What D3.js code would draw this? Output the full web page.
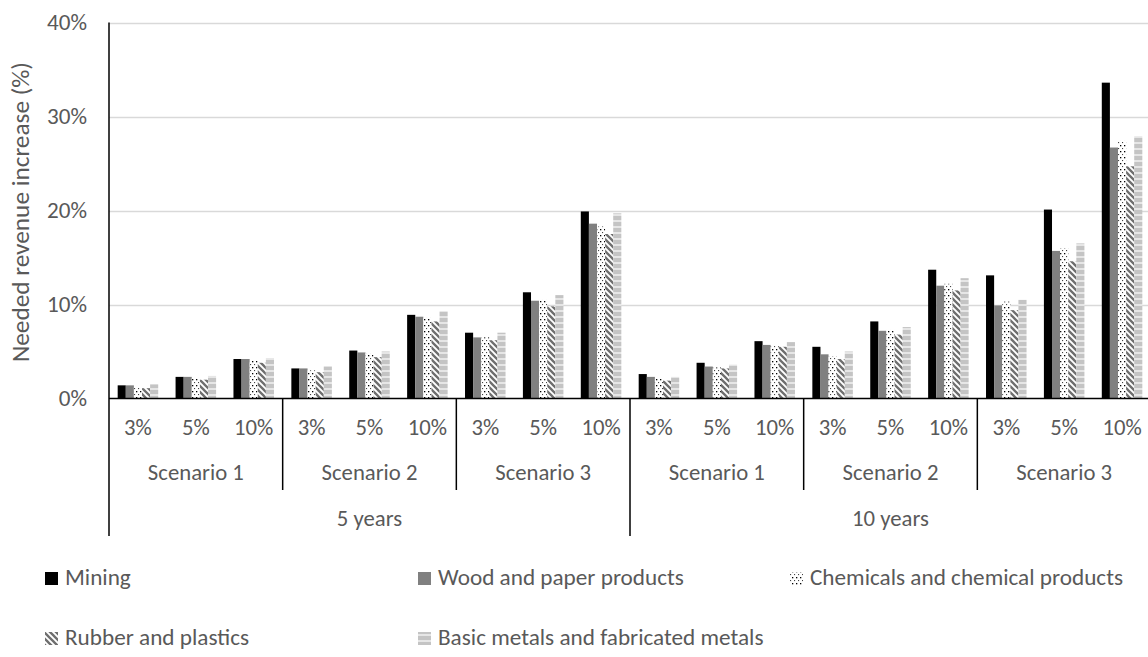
<!DOCTYPE html>
<html>
<head>
<meta charset="utf-8">
<script src="https://cdn.jsdelivr.net/npm/d3@7"></script>
<style>
  html, body { margin: 0; padding: 0; background: #fff; }
  svg { display: block; }
  text { font-family: Carlito, Lato, "Liberation Sans", sans-serif; font-weight: 300; fill: #595959; }
</style>
</head>
<body>
<svg id="chart" width="1148" height="657"></svg>
<script>
// ---- data ----
const horizons = ["5 years", "10 years"];
const scenarios = ["Scenario 1", "Scenario 2", "Scenario 3"];
const rates = ["3%", "5%", "10%"];
const sectors = ["Mining", "Wood and paper products", "Chemicals and chemical products", "Rubber and plastics", "Basic metals and fabricated metals"];
const yTicks = [0, 0.1, 0.2, 0.3, 0.4];
const yTitle = "Needed revenue increase (%)";
// values (%), order: 5y S1 3/5/10, S2 3/5/10, S3 3/5/10, 10y S1..S3
const mining    = [1.4, 2.3, 4.2, 3.2, 5.1, 8.9, 7.0, 11.3, 19.9, 2.6, 3.8, 6.1, 5.5, 8.2, 13.7, 13.1, 20.1, 33.6];
const wood      = [1.4, 2.3, 4.2, 3.2, 4.9, 8.7, 6.5, 10.4, 18.6, 2.3, 3.4, 5.7, 4.7, 7.2, 12.0, 9.9, 15.7, 26.7];
const chemicals = [1.2, 2.2, 4.0, 3.0, 4.8, 8.6, 6.5, 10.5, 18.3, 2.1, 3.3, 5.6, 4.5, 7.3, 12.2, 10.3, 16.0, 27.4];
const rubber    = [1.1, 2.0, 3.8, 2.8, 4.4, 8.2, 6.2, 9.8, 17.5, 1.9, 3.2, 5.5, 4.2, 6.8, 11.5, 9.4, 14.6, 24.7];
const basic     = [1.5, 2.4, 4.3, 3.4, 5.0, 9.3, 7.0, 11.0, 19.7, 2.3, 3.6, 6.0, 5.0, 7.6, 12.8, 10.5, 16.5, 27.9];
const seriesValues = [mining, wood, chemicals, rubber, basic];

// ---- layout ----
const svg = d3.select("#chart");
const X0 = 109, X1 = 1151, Y0 = 398.5, YT = 22.5;
const FAMILY = "Carlito, Lato, sans-serif";

// size a font so that a sample string has a given width
function fitSize(sample, width) {
  const t = svg.append("text").style("font-family", FAMILY).style("font-size", "20px").text(sample);
  const w = t.node().getComputedTextLength();
  t.remove();
  return (20 * width / w).toFixed(2) + "px";
}
const FS = fitSize("Scenario 1", 96);
const FSY = fitSize("40%", 40);
const FST = fitSize(yTitle, 300);
const FSL = fitSize("Wood and paper products", 246);

const catKeys = [];
horizons.forEach(h => scenarios.forEach(s => rates.forEach(r => catKeys.push(h + "|" + s + "|" + r))));

const x = d3.scaleBand().domain(catKeys).range([X0, X1]).paddingInner(0.3).paddingOuter(0.15);
const xFull = d3.scaleBand().domain(catKeys).range([X0, X1]).padding(0);
const xs = d3.scaleBand().domain(d3.range(sectors.length)).range([0, x.bandwidth()]);
const y = d3.scaleLinear().domain([0, 0.4]).range([Y0, YT]);

// ---- patterns ----
const defs = svg.append("defs");
const pChem = defs.append("pattern").attr("id", "pChem").attr("patternUnits", "userSpaceOnUse").attr("width", 4).attr("height", 6);
pChem.append("rect").attr("width", 4).attr("height", 6).attr("fill", "#fff");
pChem.append("rect").attr("x", 0).attr("y", 1).attr("width", 1.3).attr("height", 1.3).attr("fill", "#000");
pChem.append("rect").attr("x", 2).attr("y", 4).attr("width", 1.1).attr("height", 1.1).attr("fill", "#444");
const pRub = defs.append("pattern").attr("id", "pRub").attr("patternUnits", "userSpaceOnUse").attr("width", 6).attr("height", 6);
pRub.append("rect").attr("width", 6).attr("height", 6).attr("fill", "#fff");
pRub.append("path").attr("d", "M-1,5 L1,7 M0,0 L6,6 M5,-1 L7,1").attr("stroke", "#6e6e6e").attr("stroke-width", 2.3);
const pBas = defs.append("pattern").attr("id", "pBas").attr("patternUnits", "userSpaceOnUse").attr("width", 6).attr("height", 6);
pBas.append("rect").attr("width", 6).attr("height", 6).attr("fill", "#e6e6e6");
pBas.append("rect").attr("x", 0).attr("y", 0).attr("width", 6).attr("height", 4).attr("fill", "#c4c4c4");
const fills = ["#000000", "#808080", "url(#pChem)", "url(#pRub)", "url(#pBas)"];

// ---- gridlines ----
svg.append("g").selectAll("line").data(yTicks.filter(d => d > 0)).join("line")
  .attr("x1", X0).attr("x2", 1148).attr("y1", d => Math.round(y(d)) + 0.5).attr("y2", d => Math.round(y(d)) + 0.5)
  .attr("stroke", "#d9d9d9").attr("stroke-width", 1.3);

// y tick labels
const yAxis = d3.axisLeft(y).tickValues(yTicks).tickFormat(d3.format(".0%")).tickSize(0).tickPadding(22);
const ya = svg.append("g").attr("transform", `translate(${X0},0)`).call(yAxis);
ya.select(".domain").remove();
ya.selectAll("text").style("font-size", FSY).attr("fill", "#595959").style("font-family", FAMILY).style("font-weight", 300);

// y title
svg.append("text").attr("transform", `translate(23,212) rotate(-90)`)
  .attr("text-anchor", "middle").attr("dominant-baseline", "middle")
  .style("font-size", FST).text(yTitle);

// ---- bars ----
const barData = [];
seriesValues.forEach((vals, si) => vals.forEach((v, ci) => barData.push({ si, key: catKeys[ci], v: v / 100 })));
svg.append("g").selectAll("rect").data(barData).join("rect")
  .attr("x", d => x(d.key) + xs(d.si))
  .attr("width", xs.bandwidth())
  .attr("y", d => y(d.v))
  .attr("height", d => Y0 - y(d.v))
  .attr("fill", d => fills[d.si]);

// ---- axes lines ----
const YB_SC = 490, YB_H = 536;
svg.append("line").attr("x1", X0).attr("x2", X1).attr("y1", Y0).attr("y2", Y0).attr("stroke", "#000").attr("stroke-width", 1.5);
svg.append("line").attr("x1", X0).attr("x2", X0).attr("y1", YT).attr("y2", YB_H).attr("stroke", "#000").attr("stroke-width", 1.5);

// category labels
svg.append("g").selectAll("text").data(catKeys).join("text")
  .attr("x", d => xFull(d) + xFull.bandwidth() / 2).attr("y", 430)
  .attr("text-anchor", "middle").attr("dominant-baseline", "middle")
  .style("font-size", FS).text(d => d.split("|")[2]);

// scenario labels + separators
const scenGroups = [];
horizons.forEach(h => scenarios.forEach(s => scenGroups.push({ h, s })));
scenGroups.forEach((g, i) => {
  const a = xFull(catKeys[i * 3]), b = xFull(catKeys[i * 3 + 2]) + xFull.bandwidth();
  svg.append("text").attr("x", (a + b) / 2).attr("y", 475).attr("text-anchor", "middle").attr("dominant-baseline", "middle")
    .style("font-size", FS).text(g.s);
  if (i % 3 !== 0) {
    svg.append("line").attr("x1", a).attr("x2", a).attr("y1", Y0).attr("y2", YB_SC).attr("stroke", "#000").attr("stroke-width", 1.5);
  }
});
horizons.forEach((h, i) => {
  const a = xFull(catKeys[i * 9]), b = xFull(catKeys[i * 9 + 8]) + xFull.bandwidth();
  svg.append("text").attr("x", (a + b) / 2).attr("y", 521).attr("text-anchor", "middle").attr("dominant-baseline", "middle")
    .style("font-size", FS).text(h);
  if (i > 0) svg.append("line").attr("x1", a).attr("x2", a).attr("y1", Y0).attr("y2", YB_H).attr("stroke", "#000").attr("stroke-width", 1.5);
});

// ---- legend ----
const legendPos = [[45, 579], [418, 579], [790, 579], [45, 639], [418, 639]];
sectors.forEach((name, i) => {
  const [lx, ly] = legendPos[i];
  svg.append("rect").attr("x", lx).attr("y", ly - 7).attr("width", 13).attr("height", 13).attr("fill", fills[i]);
  svg.append("text").attr("x", lx + 20).attr("y", ly).attr("dominant-baseline", "middle")
    .style("font-size", FSL).text(name);
});
</script>
</body>
</html>
